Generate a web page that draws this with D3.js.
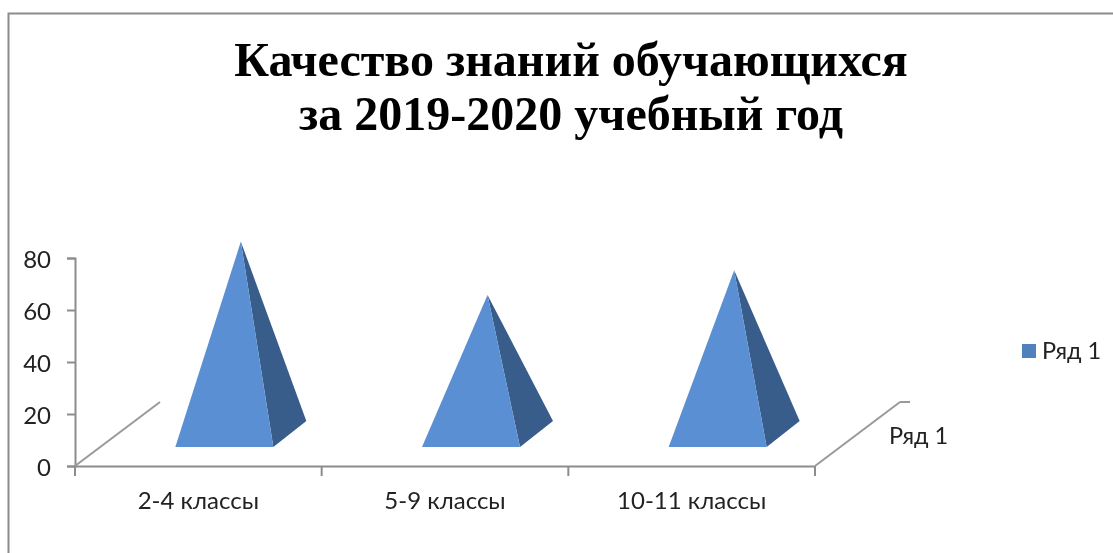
<!DOCTYPE html>
<html>
<head>
<meta charset="utf-8">
<script src="https://cdn.jsdelivr.net/npm/d3@7"></script>
<style>
  html, body { margin: 0; padding: 0; background: #fff; overflow: hidden; }
  svg { filter: blur(0.4px); }
  text { font-family: Lato, sans-serif; fill: #222; }
</style>
</head>
<body>
<svg id="chart" width="1113" height="553"></svg>
<script>
const categories = ["2-4 классы", "5-9 классы", "10-11 классы"];
const values = [74, 53.5, 63];
const yTicks = [0, 20, 40, 60, 80];
const seriesName = "Ряд 1";
const titleLines = ["Качество знаний обучающихся", "за 2019-2020 учебный год"];

const svg = d3.select("#chart");

// рамка диаграммы
svg.append("path")
  .attr("d", "M8.5,553V13.5H1113")
  .attr("fill", "none")
  .attr("stroke", "#8c8c8c")
  .attr("stroke-width", 2);

// заголовок
svg.append("g").selectAll("text")
  .data(titleLines)
  .enter()
  .append("text")
  .attr("x", 571)
  .attr("y", (d, i) => 75.5 + i * 54)
  .attr("text-anchor", "middle")
  .style("font-family", "'Liberation Serif', serif")
  .style("font-weight", "bold")
  .style("font-size", "48px")
  .style("fill", "#000")
  .text(d => d);

const x = d3.scaleBand().domain(categories).range([75, 815]);
const y = d3.scaleLinear().domain([0, 80]).range([466, 258]);

// смещение глубины 3D
const depthX = 85, depthY = 64;
const axisColor = "#8c8c8c";
const labelSize = "24px";

const yAxis = d3.axisLeft(y).tickValues(yTicks).tickSize(8).tickPadding(16);
const gy = svg.append("g").attr("transform", "translate(75,0)").call(yAxis);
gy.selectAll("text").style("font-size", labelSize).attr("y", 1.5);

const xAxis = d3.axisBottom(x).tickSize(0).tickPadding(26);
const gx = svg.append("g").attr("transform", "translate(0,466)").call(xAxis);
gx.selectAll("text").style("font-size", labelSize);

// деления между категориями
const xEdges = categories.map(c => x(c)).concat(x.range()[1]);
gx.selectAll("line.edge")
  .data(xEdges)
  .enter()
  .append("line")
  .attr("class", "edge")
  .attr("x1", d => d)
  .attr("x2", d => d)
  .attr("y1", 0)
  .attr("y2", 10);

svg.selectAll(".domain, .tick line, .edge")
  .attr("stroke", axisColor)
  .attr("stroke-width", 2);

// ось глубины и левая стенка
const wall = svg.append("g").attr("stroke", "#999").attr("stroke-width", 2).attr("fill", "none");
wall.append("line")
  .attr("x1", x.range()[0]).attr("y1", y(0))
  .attr("x2", x.range()[0] + depthX).attr("y2", y(0) - depthY);
wall.append("line")
  .attr("x1", x.range()[1]).attr("y1", y(0))
  .attr("x2", x.range()[1] + depthX).attr("y2", y(0) - depthY);
wall.append("line")
  .attr("x1", x.range()[1] + depthX).attr("y1", y(0) - depthY)
  .attr("x2", x.range()[1] + depthX + 10).attr("y2", y(0) - depthY);

svg.append("text")
  .attr("x", 889)
  .attr("y", 444)
  .style("font-size", "23.5px")
  .text(seriesName);

// пирамиды
const baseW = 98, baseDX = 33, baseDY = 26, frontY = 447, shiftX = 26;
const pyramids = svg.append("g").selectAll("g")
  .data(categories.map((c, i) => ({ c, v: values[i] })))
  .enter()
  .append("g");

const line = d3.line();

function corners(d) {
  const left = x(d.c) + x.bandwidth() / 2 - baseW / 2 + shiftX;
  const apexX = left + baseW / 2 + baseDX / 2;
  const apexY = frontY - baseDY / 2 - (y(0) - y(d.v));
  return {
    fl: [left, frontY],
    fr: [left + baseW, frontY],
    br: [left + baseW + baseDX, frontY - baseDY],
    apex: [apexX, apexY]
  };
}

pyramids.append("path")
  .attr("d", d => { const p = corners(d); return line([p.fr, p.br, p.apex]) + "Z"; })
  .attr("fill", "#385d8a");

pyramids.append("path")
  .attr("d", d => { const p = corners(d); return line([p.fl, p.fr, p.apex]) + "Z"; })
  .attr("fill", "#5b8fd3");

// легенда
svg.append("rect")
  .attr("x", 1022).attr("y", 344)
  .attr("width", 14).attr("height", 14)
  .attr("fill", "#4f81bd");
svg.append("text")
  .attr("x", 1042)
  .attr("y", 359)
  .style("font-size", "23.5px")
  .text(seriesName);
</script>
</body>
</html>
